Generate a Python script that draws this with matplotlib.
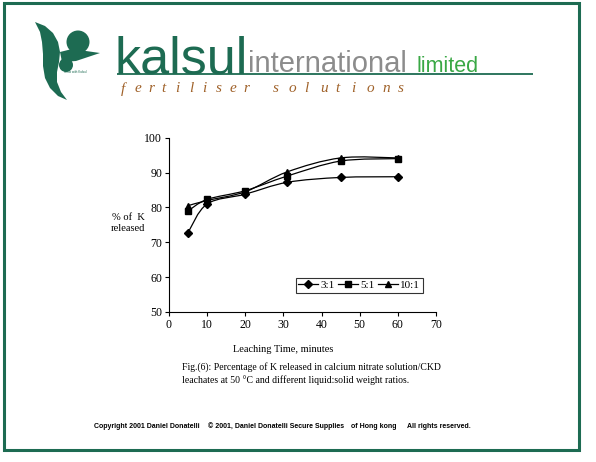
import numpy as np
import matplotlib
matplotlib.use("Agg")
import matplotlib.pyplot as plt
from matplotlib.path import Path
from matplotlib.patches import PathPatch, Rectangle, Circle, Polygon
from matplotlib.lines import Line2D

# ---------------------------
# Data
# ---------------------------
time_min = [5, 10, 20, 31, 45, 60]
k_3to1 = [72.8, 81.0, 83.8, 87.2, 88.6, 88.8]
k_5to1 = [79.0, 82.3, 84.8, 89.0, 93.3, 94.0]
k_10to1 = [80.5, 82.0, 84.5, 90.2, 94.2, 94.2]
series_labels = ["3:1", "5:1", "10:1"]
series_markers = ["D", "s", "^"]
x_ticks = [0, 10, 20, 30, 40, 50, 60, 70]
y_ticks = [50, 60, 70, 80, 90, 100]

GREEN = "#1d6b52"
SERIF = ["Liberation Serif", "DejaVu Serif"]
SANS = ["Liberation Sans", "DejaVu Sans"]


def smooth_path(xs, ys):
    """Excel-style smoothed line: cubic Bezier segments through the points."""
    pts = np.column_stack([xs, ys]).astype(float)
    n = len(pts)
    verts = [pts[0]]
    codes = [Path.MOVETO]
    for i in range(n - 1):
        p0 = pts[i - 1] if i > 0 else pts[i]
        p1 = pts[i]
        p2 = pts[i + 1]
        p3 = pts[i + 2] if i + 2 < n else pts[i + 1]
        verts += [p1 + (p2 - p0) / 6, p2 - (p3 - p1) / 6, p2]
        codes += [Path.CURVE4] * 3
    return Path(verts, codes)


fig = plt.figure(figsize=(5.96, 4.62), dpi=100)

# background layer in pixel coordinates (frame, logo, captions)
bg = fig.add_axes([0, 0, 1, 1])
bg.set_xlim(0, 596)
bg.set_ylim(462, 0)
bg.axis("off")

bg.add_patch(Rectangle((4, 2.5), 575, 447.5, fill=False, edgecolor=GREEN, lw=2.2))

# logo mark (rough outline of the leaping figure)
body = [(35, 22), (45, 26), (53, 33), (58, 42), (60, 52), (59, 62), (57, 72),
        (57, 82), (61, 92), (67, 100), (58, 96), (50, 88), (45, 78), (43, 66),
        (43, 54), (42, 42), (40, 32)]
bg.add_patch(Polygon(body, closed=True, color=GREEN, lw=0))
bg.add_patch(Polygon([(60, 52), (72, 49), (100, 53), (76, 61), (62, 62)],
                     closed=True, color=GREEN, lw=0))
bg.add_patch(Circle((78, 42), 11.5, color=GREEN, lw=0))
bg.add_patch(Circle((66, 65), 7, color=GREEN, lw=0))
bg.text(75, 72, "Grow with Kalsul", fontsize=2.2, color=GREEN, ha="center", va="center",
        family=SANS)

# company name
bg.text(115, 73, "kalsul", fontsize=37.5, color=GREEN, va="baseline", family=SANS)
bg.text(248, 72.5, "international", fontsize=21, color="#8c8c8c", va="baseline", family=SANS)
bg.text(416, 72.5, "limited", fontsize=15.5, color="#3aa845", va="baseline", family=SANS)
bg.plot([117, 533], [73.8, 73.8], color=GREEN, lw=1.3, solid_capstyle="butt")

for i, ch in enumerate("fertiliser"):
    bg.text(121 + i * 13.6, 92.5, ch, fontsize=11, style="italic", color="#a0622a",
            va="baseline", family=SERIF)
for i, ch in enumerate("solutions"):
    bg.text(273 + i * 15.6, 92.5, ch, fontsize=11, style="italic", color="#a0622a",
            va="baseline", family=SERIF)

# chart
ax = fig.add_axes([169 / 596, 1 - 312 / 462, 267 / 596, 174.3 / 462])
for ys, mk, lab in zip([k_3to1, k_5to1, k_10to1], series_markers, series_labels):
    ax.add_patch(PathPatch(smooth_path(time_min, ys), facecolor="none",
                           edgecolor="black", lw=0.9))
    ax.plot(time_min, ys, linestyle="none", marker=mk, color="black",
            markersize=5 if mk != "D" else 4.2)

ax.set_xlim(0, 70)
ax.set_ylim(50, 100)
ax.set_xticks(x_ticks)
ax.set_yticks(y_ticks)
for s in ["top", "right"]:
    ax.spines[s].set_visible(False)
for s in ["left", "bottom"]:
    ax.spines[s].set_linewidth(0.8)
ax.tick_params(direction="out", length=3, width=0.8, labelsize=8.5, pad=2)
for lbl in ax.get_xticklabels() + ax.get_yticklabels():
    lbl.set_family(SERIF)
ax.patch.set_alpha(0)

handles = [Line2D([0], [0], color="black", lw=0.9, marker=m,
                  markersize=5 if m != "D" else 4.2) for m in series_markers]
leg = ax.legend(handles, series_labels, ncol=3, loc="lower right",
                bbox_to_anchor=(0.951, 0.109), borderaxespad=0,
                prop={"family": SERIF, "size": 8},
                frameon=True, fancybox=False, edgecolor="black", handlelength=1.8,
                handletextpad=0.2, columnspacing=0.3, borderpad=0.25)
leg.get_frame().set_linewidth(0.8)

bg.text(128, 223, "% of  K\nreleased", fontsize=7.6, ha="center", va="center",
        family=SERIF, linespacing=1.25)
bg.text(283, 349, "Leaching Time, minutes", fontsize=7.5, ha="center", va="center",
        family=SERIF)
bg.text(182, 367, "Fig.(6): Percentage of K released in calcium nitrate solution/CKD",
        fontsize=7, va="center", family=SERIF)
bg.text(182, 380, "leachates at 50 \u00b0C and different liquid:solid weight ratios.",
        fontsize=7, va="center", family=SERIF)

# footer
for x, t in [(94, "Copyright 2001 Daniel Donatelli"),
             (208, "\u00a9 2001, Daniel Donatelli Secure Supplies"),
             (351, "of Hong kong"),
             (407, "All rights reserved.")]:
    bg.text(x, 426, t, fontsize=5.0, weight="bold", va="center", family=SANS)

fig.savefig("out.png", dpi=100)
